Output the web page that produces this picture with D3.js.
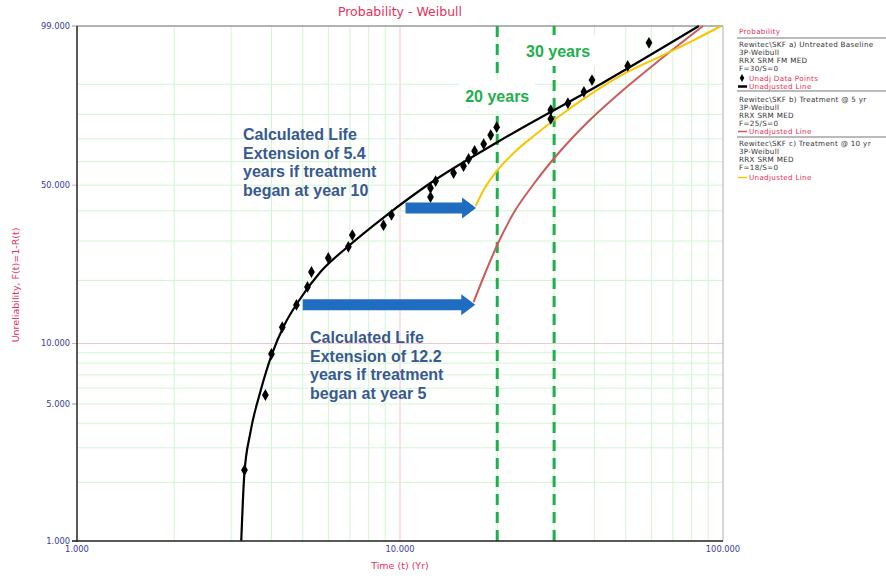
<!DOCTYPE html>
<html><head><meta charset="utf-8">
<script src="https://cdn.jsdelivr.net/npm/d3@7"></script>
<style>body{margin:0;background:#fff;} svg{display:block;}</style>
</head><body>
<svg id="c" width="886" height="579"></svg>
<script>
// ---------- data (time in years, unreliability in %) ----------
const dataT = [3.30,3.83,4.00,4.32,4.78,5.17,5.32,6.00,6.92,7.12,8.89,9.41,12.43,12.43,12.89,14.65,15.73,16.31,17.02,18.16,19.09,19.92,29.29,29.29,33.1,37.1,39.3,50.7,59.0];
const dataF = [2.31,5.55,8.88,12.0,15.35,18.65,21.86,25.28,28.3,31.8,35.0,38.5,45.2,48.8,51.7,55.1,58.1,61.2,64.7,67.7,71.6,74.9,78.2,81.6,84.1,87.8,91.1,94.3,97.7];

const baseT = [3.225,3.295,3.44,3.693,4.024,4.385,4.81,5.669,6.874,9.016,12.43,20.06,41.86,84.2];
const baseF = [1.0,2.18,3.57,5.74,8.97,12.31,15.68,21.86,28.26,38.12,50.89,68.6,90.07,99.0];

const yr10T = [17.15,18.15,20.06,22.48,25.94,30.57,38.96,49.3,64.24,81.3,98.6];
const yr10F = [41.76,48.0,56.4,63.8,71.2,78.6,87.1,92.6,96.0,97.97,99.0];

const yr5T = [16.9,18.41,20.06,22.48,25.94,30.79,38.14,48.28,64.24,86.7];
const yr5F = [15.85,21.86,29.11,39.2,50.47,63.36,77.0,87.76,95.54,99.0];

const markerYears = [20, 30];
const markerLabels = ["20 years", "30 years"];

const arrowFrom = [10.4, 5.0];
const arrowTo = [17.2, 17.1];
const arrowF = [41.0, 15.4];

const xTickValues = [1, 10, 100];
const xTickLabels = ["1.000", "10.000", "100.000"];
const yTickValues = [1, 5, 10, 50, 99];
const yTickLabels = ["1.000", "5.000", "10.000", "50.000", "99.000"];
const xGrid = [2,3,4,5,6,7,8,9,10,20,30,40,50,60,70,80,90];
const yGrid = [2,3,4,5,6,7,8,9,10,20,30,40,50,60,70,80,90];

const note1 = ["Calculated Life","Extension of 5.4","years if treatment","began at year 10"];
const note2 = ["Calculated Life","Extension of 12.2","years if treatment","began at year 5"];

// ---------- layout ----------
const L = 77, R = 723, T = 26, B = 541;
const svg = d3.select("#c");
const x = d3.scaleLog().domain([1, 100]).range([L, R]);
const wb = p => Math.log(-Math.log(1 - p / 100));
const yLin = d3.scaleLinear().domain([wb(1), wb(99)]).range([B, T]);
const y = p => yLin(wb(p));

const red = "#e3325a", tickBlue = "#3b3b9c", green = "#1eb04c";

// grid
const g = svg.append("g");
g.selectAll("line.vx").data(xGrid).join("line")
  .attr("x1", d => x(d)).attr("x2", d => x(d)).attr("y1", T).attr("y2", B)
  .attr("stroke", d => d === 10 ? "#f6c4c8" : "#d2f5d2").attr("stroke-width", 1);
g.selectAll("line.hy").data(yGrid).join("line")
  .attr("y1", d => y(d)).attr("y2", d => y(d)).attr("x1", L).attr("x2", R)
  .attr("stroke", d => d === 10 ? "#f6c4c8" : "#d2f5d2").attr("stroke-width", 1);

// border
svg.append("line").attr("x1", L).attr("x2", R).attr("y1", T).attr("y2", T).attr("stroke", "#9a9a9a").attr("stroke-width", 1.5);
svg.append("line").attr("x1", R).attr("x2", R).attr("y1", T).attr("y2", B).attr("stroke", "#b0b0b0").attr("stroke-width", 1);

// axes
const yAx = svg.append("g");
yAx.selectAll("line").data(yTickValues).join("line")
  .attr("x1", L - 5).attr("x2", L).attr("y1", d => y(d)).attr("y2", d => y(d))
  .attr("stroke", d => (d === 10 || d === 50) ? "#f0a0a8" : "#999");
yAx.selectAll("text").data(yTickValues).join("text")
  .attr("x", L - 7).attr("y", d => y(d)).attr("dy", "0.35em")
  .attr("text-anchor", "end").attr("font-family", "DejaVu Sans, Verdana, sans-serif")
  .attr("font-size", 8.3).attr("fill", tickBlue)
  .text((d, i) => yTickLabels[i]);
const xAx = svg.append("g");
xAx.selectAll("text").data(xTickValues).join("text")
  .attr("x", d => x(d)).attr("y", B + 11)
  .attr("text-anchor", "middle").attr("font-family", "DejaVu Sans, Verdana, sans-serif")
  .attr("font-size", 8.3).attr("fill", tickBlue)
  .text((d, i) => xTickLabels[i]);

// title and axis labels
svg.append("text").attr("x", 400).attr("y", 16).attr("text-anchor", "middle")
  .attr("font-family", "DejaVu Sans, sans-serif").attr("font-size", 12.5).attr("fill", red)
  .text("Probability - Weibull");
svg.append("text").attr("x", 400).attr("y", 569).attr("text-anchor", "middle")
  .attr("font-family", "DejaVu Sans, sans-serif").attr("font-size", 9.5).attr("fill", red)
  .text("Time (t) (Yr)");
svg.append("text").attr("transform", "translate(19,285) rotate(-90)").attr("text-anchor", "middle")
  .attr("font-family", "DejaVu Sans, sans-serif").attr("font-size", 9.5).attr("fill", red)
  .text("Unreliability, F(t)=1-R(t)");

// marker dashed lines
svg.selectAll("line.mk").data(markerYears).join("line")
  .attr("x1", d => x(d)).attr("x2", d => x(d)).attr("y1", T).attr("y2", B)
  .attr("stroke", green).attr("stroke-width", 3).attr("stroke-dasharray", "11,7");

// curves
const line = d3.line().x(d => x(d[0])).y(d => y(d[1])).curve(d3.curveMonotoneX);
const zip = (a, b) => a.map((v, i) => [v, b[i]]);
svg.append("path").datum(zip(yr5T, yr5F)).attr("d", line).attr("fill", "none").attr("stroke", "#cc5a5a").attr("stroke-width", 2);
svg.append("path").datum(zip(yr10T, yr10F)).attr("d", line).attr("fill", "none").attr("stroke", "#f7c600").attr("stroke-width", 2);
svg.append("path").datum(zip(baseT, baseF)).attr("d", line).attr("fill", "none").attr("stroke", "#000").attr("stroke-width", 2.2);

// data points (diamonds)
svg.selectAll("path.pt").data(zip(dataT, dataF)).join("path")
  .attr("d", d3.symbol().type(d3.symbolDiamond).size(40))
  .attr("transform", d => `translate(${x(d[0])},${y(d[1])})`)
  .attr("fill", "#000");

// marker labels with white boxes
markerYears.forEach((yrv, i) => {
  const cy = i === 0 ? 96 : 51;
  const cx = x(yrv) + (i === 0 ? 0 : 4);
  svg.append("rect").attr("x", cx - 38).attr("y", cy - 16).attr("width", 76).attr("height", 31).attr("fill", "#fff");
  svg.append("text").attr("x", cx).attr("y", cy + 6).attr("text-anchor", "middle")
    .attr("font-family", "Liberation Sans, Arial, sans-serif").attr("font-weight", "bold")
    .attr("font-size", 16).attr("fill", green).text(markerLabels[i]);
});

// arrows
arrowF.forEach((f, i) => {
  const x0 = x(arrowFrom[i]), x1 = x(arrowTo[i]), cy = y(f);
  const hb = 5.5, hh = 10.5, hl = 14;
  const pts = [[x0, cy - hb], [x1 - hl, cy - hb], [x1 - hl, cy - hh], [x1, cy], [x1 - hl, cy + hh], [x1 - hl, cy + hb], [x0, cy + hb]];
  svg.append("path").attr("d", "M" + pts.map(p => p.join(",")).join("L") + "Z").attr("fill", "#1f6cc0");
});

// annotations
function note(lines, x0, y0) {
  const t = svg.append("text").attr("font-family", "Liberation Sans, Arial, sans-serif")
    .attr("font-weight", "bold").attr("font-size", 16).attr("fill", "#365a8e");
  lines.forEach((s, i) => t.append("tspan").attr("x", x0).attr("y", y0 + i * 18.5).text(s));
}
note(note1, 243, 140);
note(note2, 310, 343);

// axis lines on top
svg.append("line").attr("x1", L).attr("x2", L).attr("y1", T).attr("y2", B + 1).attr("stroke", "#222").attr("stroke-width", 1.5);
svg.append("line").attr("x1", L - 5).attr("x2", R).attr("y1", B).attr("y2", B).attr("stroke", "#222").attr("stroke-width", 1.5);

// legend
const lg = svg.append("g").attr("font-family", "DejaVu Sans, Verdana, sans-serif").attr("font-size", 7.2).attr("letter-spacing", 0.3);
const LX = 739;
lg.append("text").attr("x", LX).attr("y", 34).attr("fill", red).text("Probability");
[38, 91, 137].forEach(v => lg.append("line").attr("x1", 737).attr("x2", 886).attr("y1", v).attr("y2", v).attr("stroke", "#777").attr("stroke-width", 1));
const blocks = [
  {y: 47, lines: ["Rewitec\\SKF a) Untreated Baseline", "3P-Weibull", "RRX SRM FM MED", "F=30/S=0"]},
  {y: 102, lines: ["Rewitec\\SKF b) Treatment @ 5 yr", "3P-Weibull", "RRX SRM  MED", "F=25/S=0"]},
  {y: 146, lines: ["Rewitec\\SKF c) Treatment @ 10 yr", "3P-Weibull", "RRX SRM  MED", "F=18/S=0"]}
];
blocks.forEach(b => b.lines.forEach((s, i) => lg.append("text").attr("x", LX).attr("y", b.y + i * 8).attr("fill", "#333").text(s)));
lg.append("path").attr("d", d3.symbol().type(d3.symbolDiamond).size(18)).attr("transform", "translate(742,78)").attr("fill", "#000");
lg.append("text").attr("x", 749).attr("y", 80.5).attr("fill", red).text("Unadj Data Points");
lg.append("line").attr("x1", 738).attr("x2", 747).attr("y1", 86.5).attr("y2", 86.5).attr("stroke", "#000").attr("stroke-width", 2.5);
lg.append("text").attr("x", 749).attr("y", 89).attr("fill", red).text("Unadjusted Line");
lg.append("line").attr("x1", 738).attr("x2", 747).attr("y1", 131.5).attr("y2", 131.5).attr("stroke", "#cc5a5a").attr("stroke-width", 1.5);
lg.append("text").attr("x", 749).attr("y", 134).attr("fill", red).text("Unadjusted Line");
lg.append("line").attr("x1", 738).attr("x2", 747).attr("y1", 177.5).attr("y2", 177.5).attr("stroke", "#f7c600").attr("stroke-width", 1.5);
lg.append("text").attr("x", 749).attr("y", 180).attr("fill", red).text("Unadjusted Line");
</script>
</body></html>
